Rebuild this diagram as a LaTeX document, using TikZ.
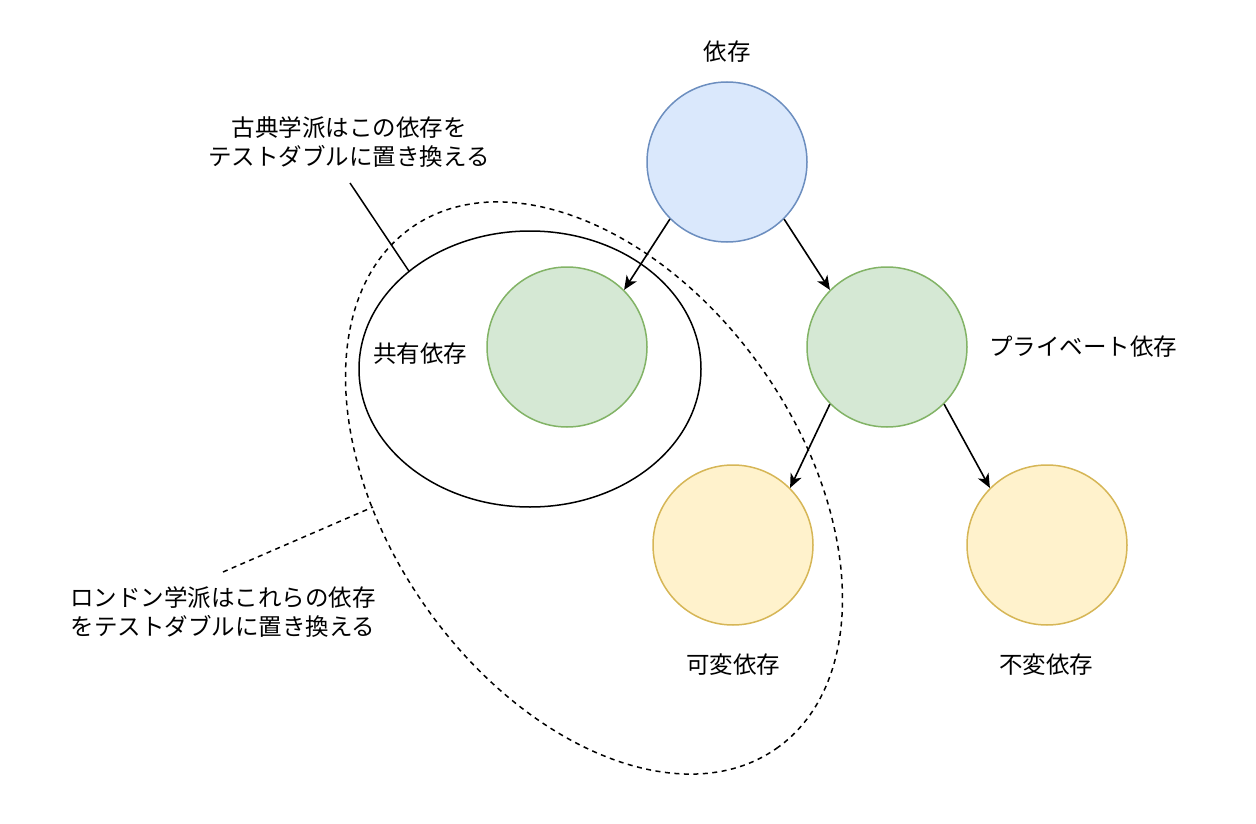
\documentclass[tikz,border=0pt]{standalone}
\usepackage{fontspec}
\setmainfont{Noto Sans CJK JP}
\usetikzlibrary{shapes.geometric,arrows.meta}
\definecolor{bluefill}{HTML}{DAE8FC}
\definecolor{bluedraw}{HTML}{6C8EBF}
\definecolor{greenfill}{HTML}{D5E8D4}
\definecolor{greendraw}{HTML}{82B366}
\definecolor{yellowfill}{HTML}{FFF2CC}
\definecolor{yellowdraw}{HTML}{D6B656}
\begin{document}
\begin{tikzpicture}[x=1pt,y=-1pt,
  dep/.style={circle,minimum size=160pt,inner sep=0pt,line width=1.5pt},
  bluedep/.style={dep,draw=bluedraw,fill=bluefill},
  greendep/.style={dep,draw=greendraw,fill=greenfill},
  yellowdep/.style={dep,draw=yellowdraw,fill=yellowfill},
  lbl/.style={inner sep=0pt,align=center,font=\fontsize{23.5pt}{29pt}\selectfont},
  arr/.style={line width=1.6pt,-{Stealth[length=14pt,width=12pt,inset=4pt]}},
  plainline/.style={line width=1.5pt},
  dashline/.style={line width=1.5pt,dash pattern=on 5pt off 4.5pt}
]
\useasboundingbox (0,0) rectangle (1256,824);

% ellipses
\node[ellipse,draw,line width=1.5pt,minimum width=342pt,minimum height=276pt,inner sep=0pt] (shared) at (530,369) {};
\node[ellipse,draw,dashline,minimum width=636pt,minimum height=412pt,inner sep=0pt,rotate=-55] (londonell) at (594,488) {};

% circles
\node[bluedep] (root) at (727,162) {};
\node[greendep] (sharedc) at (567,347) {};
\node[greendep] (private) at (887,347) {};
\node[yellowdep] (mutable) at (733,545) {};
\node[yellowdep] (immutable) at (1047,545) {};

% arrows
\draw[arr] (root.225) -- (sharedc.45);
\draw[arr] (root.315) -- (private.135);
\draw[arr] (private.225) -- (mutable.45);
\draw[arr] (private.315) -- (immutable.135);

% labels
\node[lbl] (lroot) at (727,52) {依存};
\node[lbl] (lshared) at (420,354) {共有依存};
\node[lbl] (lprivate) at (1083,347) {プライベート依存};
\node[lbl] (lmutable) at (733,665) {可変依存};
\node[lbl] (limmutable) at (1046,665) {不変依存};
\node[lbl] (lclassic) at (349,142) {古典学派はこの依存を\\テストダブルに置き換える};
\node[lbl] (llondon) at (223,612) {ロンドン学派はこれらの依存\\をテストダブルに置き換える};

% callout lines
\coordinate (cstart) at (350,183);
\draw[plainline] (cstart) -- (shared.141);
\coordinate (lstart) at (223,572);
\coordinate (lend) at (373,507);
\draw[dashline] (lstart) -- (lend);
\end{tikzpicture}
\end{document}
